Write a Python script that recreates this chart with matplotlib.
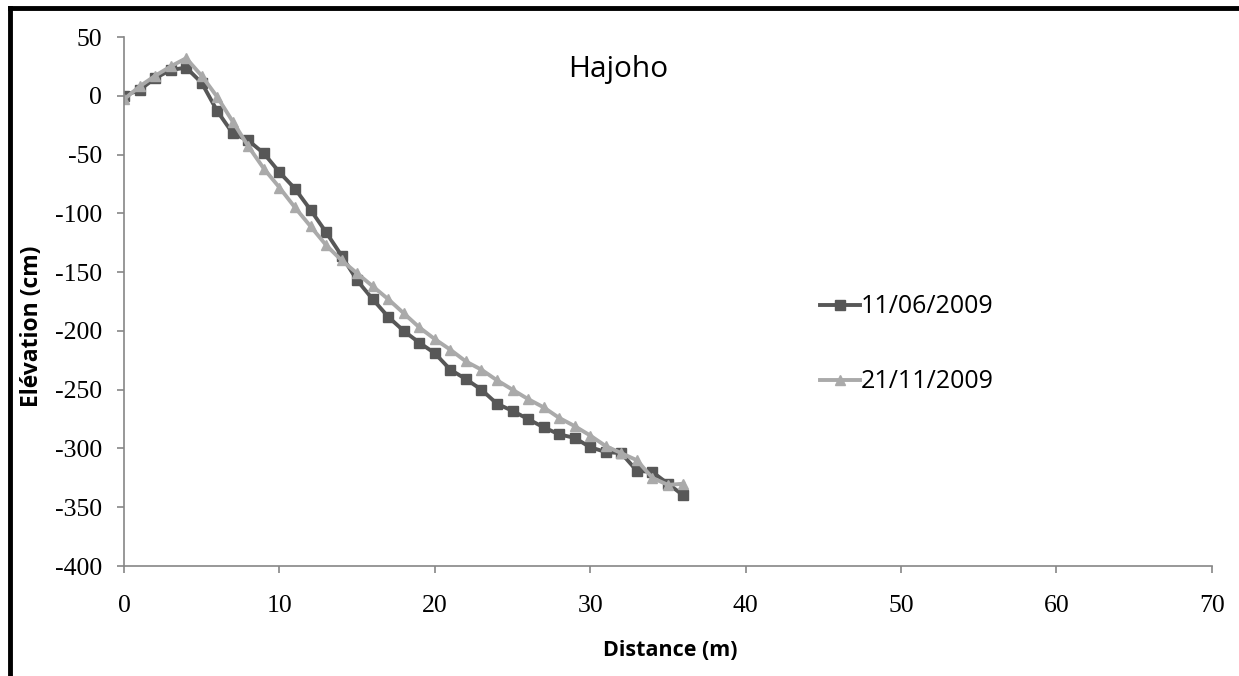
import matplotlib.pyplot as plt
from matplotlib.lines import Line2D

plt.rcParams['axes.unicode_minus'] = False

# Données du profil
distance = list(range(0, 37))
elev_juin = [0, 5, 15, 22, 24, 11, -13, -32, -38, -49, -65, -79, -97, -116, -136, -157,
             -173, -188, -200, -210, -219, -233, -241, -250, -262, -268, -275, -282,
             -288, -291, -299, -303, -304, -319, -320, -330, -340]
elev_nov = [-3, 8, 17, 25, 32, 17, -1, -22, -43, -62, -78, -95, -111, -127, -140, -151,
            -162, -173, -185, -197, -207, -216, -226, -233, -242, -250, -258, -265,
            -274, -281, -289, -298, -304, -310, -325, -331, -330]
labels = ['11/06/2009', '21/11/2009']
colors = ['#575757', '#aaaaaa']

fig = plt.figure(figsize=(12.39, 6.76), dpi=100)
ax = fig.add_axes([0.1001, 0.1627, 0.878, 0.7825])

ax.plot(distance, elev_juin, color=colors[0], lw=2.8, marker='s', ms=7, label=labels[0])
ax.plot(distance, elev_nov, color=colors[1], lw=2.8, marker='^', ms=7.5, label=labels[1])

ax.set_xlim(0, 70)
ax.set_ylim(-400, 50)
ax.set_xticks(range(0, 71, 10))
ax.set_yticks(range(-400, 51, 50))

for s in ['top', 'right']:
    ax.spines[s].set_visible(False)
for s in ['left', 'bottom']:
    ax.spines[s].set_color('#868686')
    ax.spines[s].set_linewidth(1.2)
ax.tick_params(color='#868686', length=5, width=1.2)
ax.tick_params(axis='x', pad=16)
ax.tick_params(axis='y', pad=11)
for lab in ax.get_xticklabels() + ax.get_yticklabels():
    lab.set_fontfamily('Liberation Serif')
    lab.set_fontsize(18.5)

fig.text(670 / 1239, 1 - 650 / 676, 'Distance (m)', fontsize=15.5, fontweight='bold',
         family='Open Sans', ha='center', va='center')
fig.text(32 / 1239, 1 - 326 / 676, 'Elévation (cm)', fontsize=16.5, fontweight='bold',
         family='Open Sans', ha='center', va='center', rotation=90)
fig.text(618 / 1239, 1 - 77 / 676, 'Hajoho', fontsize=21.5, family='Open Sans',
         ha='center', va='baseline')

ax.legend(loc='center left', bbox_to_anchor=(0.619, 0.419), frameon=False,
          prop={'family': 'Open Sans', 'size': 18}, labelspacing=2.0,
          handlelength=1.6, handletextpad=0.05, borderpad=0.4)

# cadre noir (haut et gauche)
fig.add_artist(Line2D([0.008, 1.0], [0.988, 0.988], color='black', lw=3.5, transform=fig.transFigure))
fig.add_artist(Line2D([0.008, 0.008], [0.0, 0.988], color='black', lw=3.5, transform=fig.transFigure))

plt.savefig('out.png', dpi=100)
